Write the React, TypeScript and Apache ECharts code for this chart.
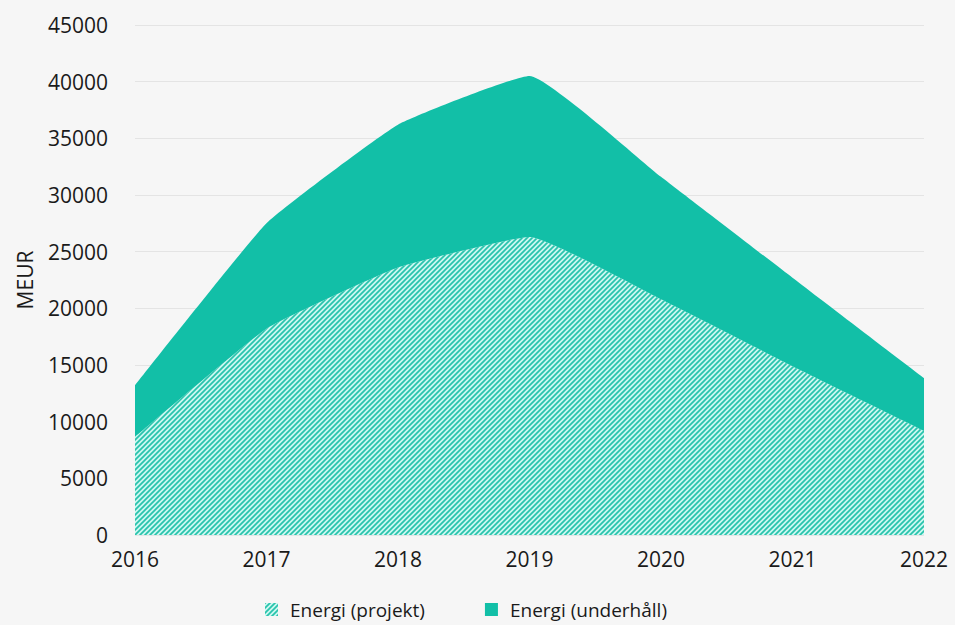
import React, { useEffect, useRef } from "react";
import * as echarts from "echarts";

const years = ["2016", "2017", "2018", "2019", "2020", "2021", "2022"];
const projekt = [8650, 18200, 23600, 26300, 20800, 14900, 9200];
const underhall = [4550, 9300, 12600, 14200, 10800, 7800, 4650];
const seriesNames = ["Energi (projekt)", "Energi (underhåll)"];

const TEAL = "#12bfa7";
const FONT = "'Open Sans', 'DejaVu Sans', sans-serif";

function makeHatch(): HTMLCanvasElement {
  const s = 5;
  const c = document.createElement("canvas");
  c.width = s;
  c.height = s;
  const ctx = c.getContext("2d")!;
  ctx.fillStyle = "#cdf7f0";
  ctx.fillRect(0, 0, s, s);
  ctx.strokeStyle = "#28c3ac";
  ctx.lineWidth = 1.7;
  ctx.beginPath();
  ctx.moveTo(-1, s + 1);
  ctx.lineTo(s + 1, -1);
  ctx.moveTo(-1, 1);
  ctx.lineTo(1, -1);
  ctx.moveTo(s - 1, s + 1);
  ctx.lineTo(s + 1, s - 1);
  ctx.stroke();
  return c;
}

export default function App() {
  const ref = useRef<HTMLDivElement>(null);
  useEffect(() => {
    if (!ref.current) return;
    const chart = echarts.init(ref.current, undefined, { renderer: "svg" });
    const hatch = { image: makeHatch(), repeat: "repeat" };
    chart.setOption({
      animation: false,
      backgroundColor: "#f6f6f6",
      grid: { left: 135, right: 31, top: 25, bottom: 90 },
      legend: {
        top: 595,
        left: 260,
        itemWidth: 13,
        itemHeight: 13,
        itemGap: 60,
        icon: "rect",
        textStyle: { fontFamily: FONT, fontSize: 19, color: "#1a1a1a", padding: [0, 0, 0, 7] },
        data: seriesNames,
      },
      xAxis: {
        type: "category",
        data: years,
        boundaryGap: false,
        axisLine: { show: false },
        axisTick: { show: false },
        axisLabel: { fontFamily: FONT, fontSize: 21, color: "#1a1a1a", margin: 13 },
      },
      yAxis: {
        type: "value",
        min: 0,
        max: 45000,
        interval: 5000,
        name: "MEUR",
        nameLocation: "middle",
        nameGap: 100,
        nameRotate: 90,
        nameTextStyle: { fontFamily: FONT, fontSize: 21, color: "#1a1a1a" },
        axisLine: { show: false },
        axisTick: { show: false },
        axisLabel: {
          fontFamily: FONT,
          fontSize: 21,
          color: "#1a1a1a",
          margin: 27,
          formatter: (v: number) => String(v),
        },
        splitLine: { lineStyle: { color: "#e4e4e4", width: 1 } },
      },
      series: [
        {
          name: seriesNames[0],
          type: "line",
          stack: "total",
          data: projekt,
          smooth: 0.12,
          symbol: "none",
          lineStyle: { width: 0 },
          itemStyle: { color: hatch },
          areaStyle: { color: hatch, opacity: 1 },
        },
        {
          name: seriesNames[1],
          type: "line",
          stack: "total",
          data: underhall,
          smooth: 0.12,
          symbol: "none",
          lineStyle: { width: 0 },
          itemStyle: { color: TEAL },
          areaStyle: { color: TEAL, opacity: 1 },
        },
      ],
    });
    return () => chart.dispose();
  }, []);
  return (
    <div
      ref={ref}
      style={{ position: "fixed", left: 0, top: 0, width: 955, height: 625 }}
    />
  );
}
